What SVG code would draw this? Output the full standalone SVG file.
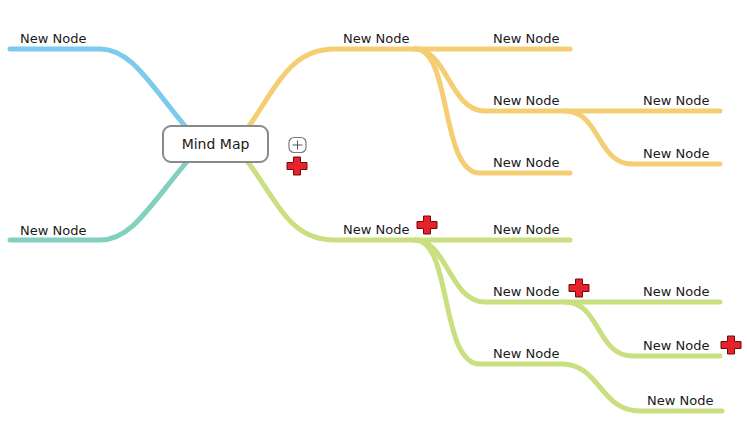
<svg xmlns="http://www.w3.org/2000/svg" width="747" height="428" viewBox="0 0 747 428">
<style>
.br{fill:none;stroke-width:5;stroke-linecap:round;stroke-linejoin:round}
.o{stroke:#f5cd72}.g{stroke:#c9df80}.b{stroke:#7ccbef}.t{stroke:#82d0bf}
.lbl{font-family:"DejaVu Sans",sans-serif;font-size:13px;fill:#1a1a1a}
.cross{fill:#e8222b;stroke:#6b0d0d;stroke-width:1}
</style>
<defs>
<path id="cross" class="cross" d="M-3.5,-9 H3.5 V-3.5 H10 V3.5 H3.5 V9 H-3.5 V3.5 H-10 V-3.5 H-3.5 Z"/>
</defs>
<rect width="747" height="428" fill="#ffffff"/>
<g id="connectors">
<path class="br b" d="M10,49 H100 C132,49 150,85 190,132"/>
<path class="br t" d="M10,240 H100 C132,240 150,205 190,158"/>
<path class="br o" d="M245,132 C278,85 290,49 335,49 H570"/>
<path class="br o" d="M415,49 C447,49 450,111 485,111 H720"/>
<path class="br o" d="M415,49 C452,49 440,173 480,173 H570"/>
<path class="br o" d="M565,111 C600,111 597,164 632,164 H720"/>
<path class="br g" d="M245,158 C280,205 290,240 335,240 H570"/>
<path class="br g" d="M415,240 C447,240 450,302 485,302 H720"/>
<path class="br g" d="M415,240 C452,240 440,364 480,364 H562 C600,364 600,411 640,411 H722"/>
<path class="br g" d="M565,302 C600,302 597,356 632,356 H720"/>
</g>
<g id="root">
<rect x="163" y="126" width="105" height="36" rx="8" fill="#ffffff" stroke="#8a8a8a" stroke-width="2"/>
<text x="215.5" y="149" text-anchor="middle" font-family="DejaVu Sans, sans-serif" font-size="14" fill="#1a1a1a">Mind Map</text>
</g>
<g id="expand">
<rect x="289" y="137.5" width="17" height="15" rx="5" fill="#ffffff" stroke="#7a7a7a" stroke-width="1.2"/>
<path d="M292.5,145 H302.5 M297.5,140.5 V149.5" stroke="#555" stroke-width="1"/>
</g>
<g id="n-left-1"><text class="lbl" x="20" y="43">New Node</text></g>
<g id="n-left-2"><text class="lbl" x="20" y="235">New Node</text></g>
<g id="n-o1"><text class="lbl" x="343" y="43">New Node</text></g>
<g id="n-o1a"><text class="lbl" x="493" y="43">New Node</text></g>
<g id="n-o1b"><text class="lbl" x="493" y="105">New Node</text></g>
<g id="n-o1c"><text class="lbl" x="493" y="167">New Node</text></g>
<g id="n-o1b1"><text class="lbl" x="643" y="105">New Node</text></g>
<g id="n-o1b2"><text class="lbl" x="643" y="158">New Node</text></g>
<g id="n-g1"><text class="lbl" x="343" y="234">New Node</text></g>
<g id="n-g1a"><text class="lbl" x="493" y="234">New Node</text></g>
<g id="n-g1b"><text class="lbl" x="493" y="296">New Node</text></g>
<g id="n-g1c"><text class="lbl" x="493" y="358">New Node</text></g>
<g id="n-g1b1"><text class="lbl" x="643" y="296">New Node</text></g>
<g id="n-g1b2"><text class="lbl" x="643" y="350">New Node</text></g>
<g id="n-g1c1"><text class="lbl" x="647" y="405">New Node</text></g>
<g id="markers">
<use href="#cross" x="297" y="166"/>
<use href="#cross" x="427" y="225"/>
<use href="#cross" x="579" y="288"/>
<use href="#cross" x="731" y="345"/>
</g>
</svg>
